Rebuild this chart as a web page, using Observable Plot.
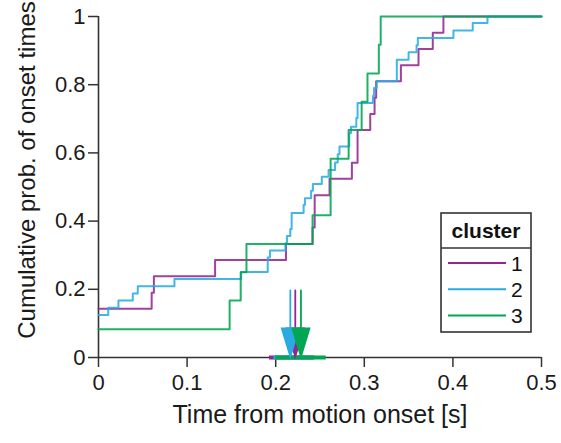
<!DOCTYPE html>
<html>
<head>
<meta charset="utf-8">
<script src="https://cdn.jsdelivr.net/npm/d3@7"></script>
<script src="https://cdn.jsdelivr.net/npm/@observablehq/plot@0.6"></script>
<style>
  body { margin: 0; background: #fff; }
  #chart { position: relative; width: 561px; height: 443px; font-family: "Liberation Sans", Arial, Helvetica, sans-serif; }
  #chart svg.legend { position: absolute; left: 0; top: 0; pointer-events: none; }
</style>
</head>
<body>
<div id="chart"></div>
<script>
// Clusters and their colours
const clusters = ["1", "2", "3"];
const colors = ["#92278F", "#29ABE2", "#00A651"];

// Empirical CDF of onset times per cluster:
// value at t = 0, then the step times and the cumulative probability after each step
const start1 = 0.143;
const time1 = [0.060, 0.0625, 0.1316, 0.2116, 0.2416, 0.244, 0.2608, 0.286, 0.2924, 0.3067, 0.3116, 0.3134, 0.3413, 0.3612, 0.3773, 0.3893];
const prob1 = [0.190, 0.238, 0.286, 0.333, 0.381, 0.476, 0.524, 0.571, 0.667, 0.714, 0.762, 0.810, 0.857, 0.905, 0.952, 1];

const start2 = 0.125;
const time2 = [0.011, 0.0225, 0.0387, 0.0443, 0.0857, 0.161, 0.191, 0.1935, 0.211, 0.2127, 0.2165, 0.218, 0.2315, 0.233, 0.240, 0.242, 0.252, 0.2597, 0.267, 0.270, 0.272, 0.283, 0.285, 0.291, 0.2924, 0.3097, 0.311, 0.314, 0.3367, 0.350, 0.359, 0.3604, 0.4006, 0.4224, 0.439];
const prob2 = [0.146, 0.167, 0.188, 0.209, 0.230, 0.251, 0.293, 0.314, 0.335, 0.356, 0.377, 0.424, 0.447, 0.467, 0.489, 0.509, 0.530, 0.550, 0.572, 0.596, 0.619, 0.658, 0.677, 0.702, 0.746, 0.767, 0.790, 0.810, 0.873, 0.895, 0.916, 0.937, 0.959, 0.981, 1];

const start3 = 0.083;
const time3 = [0.148, 0.1605, 0.167, 0.2416, 0.262, 0.2823, 0.297, 0.3036, 0.3164, 0.3185];
const prob3 = [0.167, 0.25, 0.333, 0.417, 0.583, 0.667, 0.75, 0.833, 0.917, 1];

// Median onset time per cluster and its interval
const medians = [0.2221, 0.2165, 0.2285];
const ciLow = [0.193, 0.198, 0.200];
const ciHigh = [0.244, 0.242, 0.257];

// Axis ticks
const xTicks = [0, 0.1, 0.2, 0.3, 0.4, 0.5];
const yTicks = [0, 0.2, 0.4, 0.6, 0.8, 1];
const xTickLabels = ["0", "0.1", "0.2", "0.3", "0.4", "0.5"];
const yTickLabels = ["0", "0.2", "0.4", "0.6", "0.8", "1"];
const xLabel = "Time from motion onset [s]";
const yLabel = "Cumulative prob. of onset times";
const legendTitle = "cluster";

const xMax = 0.5;

// Build step rows for the line mark
const series = [[start1, time1, prob1], [start2, time2, prob2], [start3, time3, prob3]];
const cdfRows = [];
series.forEach(([s, ts, ps], k) => {
  cdfRows.push({cluster: clusters[k], t: 0, p: s});
  ts.forEach((t, i) => cdfRows.push({cluster: clusters[k], t, p: ps[i]}));
  cdfRows.push({cluster: clusters[k], t: xMax, p: ps[ps.length - 1]});
});
const medRows = clusters.map((c, k) => ({cluster: c, m: medians[k], lo: ciLow[k], hi: ciHigh[k]}));

// Down-pointing arrow: thin stem with an elongated head whose tip sits on the anchor
const arrowShape = {
  draw(context, l) {
    const head = 29, hw = 8.5;
    context.moveTo(0, 0);
    context.lineTo(0, -l + head);
    context.moveTo(-hw, -l + head);
    context.lineTo(hw, -l + head);
    context.lineTo(0, -l + 1);
    context.closePath();
  }
};

const axisColor = "#333";
const textColor = "#1a1a1a";
const font = "'Liberation Sans', Arial, Helvetica, sans-serif";

const chart = Plot.plot({
  width: 561,
  height: 443,
  marginLeft: 98,
  marginRight: 20,
  marginTop: 16,
  marginBottom: 86,
  style: {fontFamily: font, background: "#fff", overflow: "visible"},
  x: {domain: [0, xMax]},
  y: {domain: [0, 1]},
  color: {domain: clusters, range: colors},
  marks: [
    Plot.axisX(xTicks, {tickSize: 10, tickPadding: 7, fontSize: 22, stroke: axisColor, strokeWidth: 1.5, fill: textColor,
      tickFormat: (d, i) => xTickLabels[i], label: null}),
    Plot.axisY(yTicks, {tickSize: 10, tickPadding: 3, fontSize: 22, stroke: axisColor, strokeWidth: 1.5, fill: textColor,
      tickFormat: (d, i) => yTickLabels[i], label: null}),
    Plot.ruleY([0], {stroke: axisColor, strokeWidth: 1.6}),
    Plot.ruleX([0], {stroke: axisColor, strokeWidth: 1.6}),
    Plot.line(cdfRows, {x: "t", y: "p", z: "cluster", stroke: "cluster", curve: "step-after", strokeWidth: 2, strokeOpacity: 0.88}),
    Plot.ruleY(medRows, {y: 0, x1: "lo", x2: "hi", stroke: "cluster", strokeWidth: 4}),
    Plot.vector(medRows, {x: "m", y: 0, length: 67, rotate: 180, anchor: "end", shape: arrowShape,
      stroke: "cluster", fill: "cluster", strokeWidth: 1.8, strokeLinejoin: "miter"}),
    Plot.text([xLabel], {frameAnchor: "bottom", lineAnchor: "middle", textAnchor: "middle", dy: 57, fontSize: 25, fill: textColor}),
    Plot.text([yLabel], {frameAnchor: "left", lineAnchor: "middle", textAnchor: "middle", rotate: -90, dx: -71, dy: -17, fontSize: 24, fill: textColor})
  ]
});

const root = document.getElementById("chart");
root.appendChild(chart);

// Legend box with title and one line per cluster
const lg = d3.select(root).append("svg").attr("class", "legend").attr("width", 561).attr("height", 443)
  .style("font-family", font);
const box = {x: 441, y: 213, w: 90, h: 119, header: 35};
lg.append("rect").attr("x", box.x).attr("y", box.y).attr("width", box.w).attr("height", box.h)
  .attr("fill", "#fff").attr("stroke", axisColor).attr("stroke-width", 1.6);
lg.append("line").attr("x1", box.x).attr("x2", box.x + box.w).attr("y1", box.y + box.header).attr("y2", box.y + box.header)
  .attr("stroke", axisColor).attr("stroke-width", 1.6);
lg.append("text").attr("x", box.x + box.w / 2).attr("y", box.y + box.header / 2).attr("dy", "0.35em")
  .attr("text-anchor", "middle").attr("font-weight", "bold").attr("font-size", 21).attr("fill", "#111").text(legendTitle);
clusters.forEach((c, k) => {
  const yy = box.y + box.header + 15 + k * 26.3;
  lg.append("line").attr("x1", box.x + 7).attr("x2", box.x + 65).attr("y1", yy).attr("y2", yy)
    .attr("stroke", colors[k]).attr("stroke-width", 2);
  lg.append("text").attr("x", box.x + 70).attr("y", yy).attr("dy", "0.36em").attr("font-size", 21)
    .attr("fill", "#111").text(c);
});
</script>
</body>
</html>
